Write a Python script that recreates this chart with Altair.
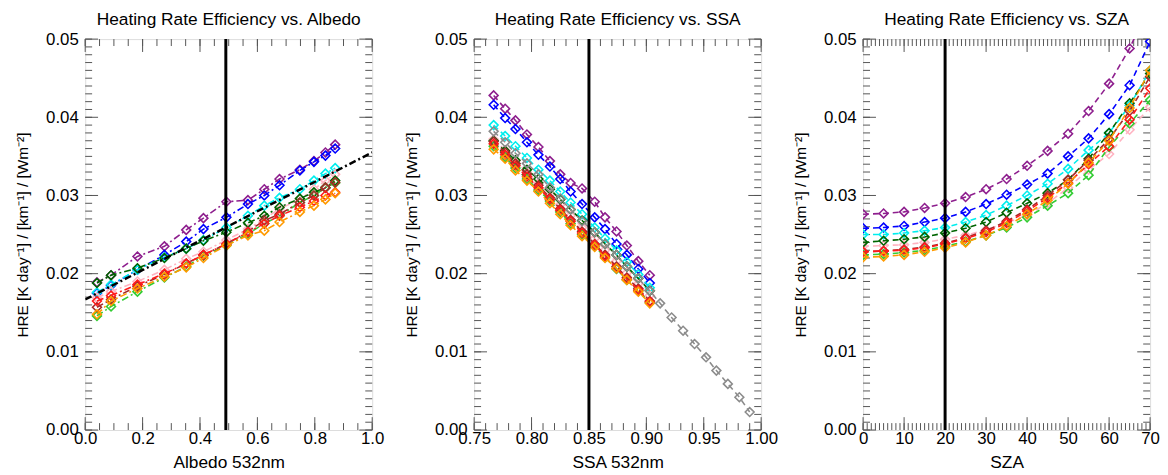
import altair as alt
import pandas as pd
import numpy as np

FONT = "Liberation Sans"
NARROW = "Liberation Sans Narrow, Liberation Sans"
W, H = 290, 395
TICK = "#555555"
YTITLE = "HRE [K day⁻¹] / [km⁻¹] / [Wm⁻²]"

SERIES = ["purple", "blue", "cyan", "pink", "darkgreen", "lime", "brown", "red", "orange", "gray"]
COLORS = ["#8E1F8E", "#0000FF", "#00EEEE", "#FFB3C1", "#006400", "#33CC33", "#A52A2A", "#FF1A1A", "#FF9A00", "#8C8C8C"]
CMAP = dict(zip(SERIES, COLORS))

# ---------------- Panel 1: HRE vs Albedo ----------------
alb_x = [0.041, 0.090, 0.182, 0.276, 0.352, 0.412, 0.492, 0.567, 0.624, 0.677, 0.748, 0.797, 0.837, 0.871]
alb_purple = [0.0189, 0.0198, 0.0222, 0.0235, 0.0256, 0.0271, 0.0292, 0.0294, 0.0308, 0.0321, 0.0333, 0.0344, 0.0355, 0.0365]
alb_blue = [0.0175, 0.0185, 0.0205, 0.0224, 0.0241, 0.0257, 0.0272, 0.0289, 0.0300, 0.0313, 0.0332, 0.0343, 0.0351, 0.0360]
alb_cyan = [0.0176, 0.0186, 0.0205, 0.0221, 0.0232, 0.0243, 0.0259, 0.0274, 0.0287, 0.0297, 0.0308, 0.0319, 0.0328, 0.0335]
alb_pink = [0.0169, 0.0177, 0.0190, 0.0205, 0.0219, 0.0228, 0.0243, 0.0257, 0.0270, 0.0283, 0.0295, 0.0308, 0.0319, 0.0327]
alb_darkgreen = [0.0188, 0.0198, 0.0207, 0.0220, 0.0232, 0.0242, 0.0253, 0.0265, 0.0274, 0.0285, 0.0296, 0.0304, 0.0310, 0.0319]
alb_lime = [0.0146, 0.0158, 0.0177, 0.0195, 0.0209, 0.0223, 0.0236, 0.0251, 0.0264, 0.0274, 0.0291, 0.0300, 0.0310, 0.0316]
alb_brown = [0.0157, 0.0167, 0.0184, 0.0199, 0.0213, 0.0224, 0.0238, 0.0254, 0.0268, 0.0276, 0.0291, 0.0300, 0.0310, 0.0317]
alb_red = [0.0165, 0.0172, 0.0186, 0.0200, 0.0213, 0.0224, 0.0238, 0.0253, 0.0264, 0.0274, 0.0285, 0.0293, 0.0300, 0.0304]
alb_orange = [0.0148, 0.0165, 0.0181, 0.0196, 0.0208, 0.0220, 0.0236, 0.0249, 0.0255, 0.0266, 0.0279, 0.0287, 0.0295, 0.0303]
alb_fit_x = [0.0, 1.0]
alb_fit_y = [0.0167, 0.0355]
alb_ref = 0.49

# ---------------- Panel 2: HRE vs SSA ----------------
ssa_x = [0.767, 0.777, 0.786, 0.796, 0.806, 0.816, 0.825, 0.834, 0.844, 0.855, 0.864, 0.874, 0.883, 0.893, 0.903]
ssa_x_gray = ssa_x + [0.912, 0.922, 0.932, 0.942, 0.952, 0.961, 0.971, 0.981, 0.990]
ssa_purple = [0.0428, 0.0411, 0.0396, 0.0378, 0.0362, 0.0344, 0.0327, 0.0316, 0.0309, 0.0292, 0.0272, 0.0254, 0.0236, 0.0216, 0.0198]
ssa_blue = [0.0416, 0.0399, 0.0385, 0.0368, 0.0352, 0.0337, 0.0321, 0.0305, 0.0289, 0.0272, 0.0257, 0.0238, 0.0224, 0.0206, 0.0188]
ssa_cyan = [0.0390, 0.0376, 0.0363, 0.0348, 0.0333, 0.0319, 0.0305, 0.0291, 0.0276, 0.0259, 0.0245, 0.0230, 0.0215, 0.0199, 0.0182]
ssa_pink = [0.0372, 0.0358, 0.0344, 0.0330, 0.0316, 0.0301, 0.0288, 0.0274, 0.0259, 0.0245, 0.0230, 0.0216, 0.0201, 0.0187, 0.0172]
ssa_darkgreen = [0.0370, 0.0357, 0.0345, 0.0333, 0.0321, 0.0308, 0.0295, 0.0282, 0.0268, 0.0253, 0.0238, 0.0224, 0.0209, 0.0194, 0.0178]
ssa_lime = [0.0363, 0.0349, 0.0335, 0.0321, 0.0307, 0.0293, 0.0279, 0.0264, 0.0250, 0.0235, 0.0221, 0.0206, 0.0192, 0.0178, 0.0163]
ssa_brown = [0.0369, 0.0355, 0.0341, 0.0327, 0.0313, 0.0297, 0.0283, 0.0269, 0.0254, 0.0238, 0.0224, 0.0209, 0.0195, 0.0181, 0.0165]
ssa_red = [0.0366, 0.0352, 0.0338, 0.0324, 0.0310, 0.0295, 0.0281, 0.0267, 0.0252, 0.0237, 0.0222, 0.0207, 0.0193, 0.0179, 0.0164]
ssa_orange = [0.0359, 0.0347, 0.0332, 0.0319, 0.0305, 0.0290, 0.0276, 0.0262, 0.0248, 0.0234, 0.0220, 0.0207, 0.0192, 0.0177, 0.0162]
ssa_gray = [0.0382, 0.0368, 0.0354, 0.0341, 0.0327, 0.0310, 0.0296, 0.0282, 0.0267, 0.0253, 0.0238, 0.0224, 0.0209, 0.0194, 0.0178,
            0.0162, 0.0144, 0.0127, 0.0110, 0.0093, 0.0076, 0.0059, 0.0042, 0.0023]
ssa_ref = 0.85

# ---------------- Panel 3: HRE vs SZA ----------------
sza_x = [0, 5, 10, 15, 20, 25, 30, 35, 40, 45, 50, 55, 60, 65, 70]
sza_purple = [0.0276, 0.0277, 0.0279, 0.0284, 0.0290, 0.0298, 0.0308, 0.0321, 0.0338, 0.0357, 0.0379, 0.0408, 0.0443, 0.0488, 0.0545]
sza_blue = [0.0258, 0.0259, 0.0261, 0.0266, 0.0271, 0.0279, 0.0289, 0.0301, 0.0314, 0.0328, 0.0350, 0.0373, 0.0404, 0.0441, 0.0497]
sza_cyan = [0.0250, 0.0250, 0.0252, 0.0255, 0.0259, 0.0266, 0.0275, 0.0287, 0.0300, 0.0315, 0.0334, 0.0358, 0.0380, 0.0415, 0.0460]
sza_pink = [0.0235, 0.0236, 0.0237, 0.0240, 0.0244, 0.0249, 0.0256, 0.0265, 0.0275, 0.0290, 0.0310, 0.0333, 0.0353, 0.0384, 0.0413]
sza_darkgreen = [0.0240, 0.0242, 0.0244, 0.0247, 0.0252, 0.0258, 0.0266, 0.0278, 0.0290, 0.0303, 0.0320, 0.0347, 0.0380, 0.0418, 0.0456]
sza_lime = [0.0224, 0.0225, 0.0227, 0.0230, 0.0235, 0.0241, 0.0249, 0.0259, 0.0272, 0.0287, 0.0303, 0.0326, 0.0362, 0.0392, 0.0422]
sza_brown = [0.0228, 0.0229, 0.0231, 0.0234, 0.0239, 0.0246, 0.0255, 0.0267, 0.0282, 0.0300, 0.0320, 0.0345, 0.0372, 0.0408, 0.0452]
sza_red = [0.0228, 0.0229, 0.0230, 0.0233, 0.0238, 0.0245, 0.0253, 0.0265, 0.0280, 0.0297, 0.0316, 0.0340, 0.0363, 0.0397, 0.0437]
sza_orange = [0.0221, 0.0222, 0.0224, 0.0228, 0.0233, 0.0240, 0.0249, 0.0261, 0.0276, 0.0294, 0.0315, 0.0342, 0.0370, 0.0412, 0.0460]
sza_ref = 20

# ---------------- Axis ticks ----------------
y_major = [0.00, 0.01, 0.02, 0.03, 0.04, 0.05]
y_minor = [round(i * 0.001, 3) for i in range(0, 51)]
alb_major = [0.0, 0.2, 0.4, 0.6, 0.8, 1.0]
alb_minor = [round(i * 0.05, 2) for i in range(0, 21)]
ssa_major = [0.75, 0.80, 0.85, 0.90, 0.95, 1.00]
ssa_minor = [round(0.75 + i * 0.01, 2) for i in range(0, 26)]
sza_major = [0, 10, 20, 30, 40, 50, 60, 70]
sza_minor = list(range(0, 71))

MAJ, MIN = 13, 7


def panel(title, xtitle, xdomain, xmaj, xmin, xfmt, series, dash, ref, extra=None):
    xscale = alt.Scale(domain=xdomain, nice=False, zero=False)
    yscale = alt.Scale(domain=[0, 0.05], nice=False, zero=False)
    xaxis = alt.Axis(values=xmaj, format=xfmt, title=xtitle, ticks=False, domain=False, grid=False,
                     labelFontSize=17, titleFontSize=17.5, labelFont=FONT, titleFont=FONT,
                     titleFontWeight="normal", labelColor="black", titleColor="black",
                     labelPadding=1, titlePadding=7, labelFlush=False, labelOverlap=False)
    yaxis = alt.Axis(values=y_major, format=".2f", title=YTITLE, ticks=False, domain=False, grid=False,
                     labelFontSize=17, titleFontSize=15.5, labelFont=FONT, titleFont=NARROW,
                     titleFontWeight="normal", labelColor="black", titleColor="black",
                     labelPadding=7, titlePadding=15, labelFlush=False, labelOverlap=False)

    def X(f):
        return alt.X(f, scale=xscale, axis=xaxis)

    def Y(f):
        return alt.Y(f, scale=yscale, axis=yaxis)

    layers = []
    for vals, L in ((xmin, MIN), (xmaj, MAJ)):
        d = pd.DataFrame({"v": vals})
        layers.append(alt.Chart(d).mark_rule(color=TICK, strokeWidth=1).encode(
            x=X("v:Q"), y=alt.value(H), y2=alt.value(H - L)))
        layers.append(alt.Chart(d).mark_rule(color=TICK, strokeWidth=1).encode(
            x=X("v:Q"), y=alt.value(0), y2=alt.value(L)))
    for vals, L in ((y_minor, MIN), (y_major, MAJ)):
        d = pd.DataFrame({"v": vals})
        layers.append(alt.Chart(d).mark_rule(color=TICK, strokeWidth=1).encode(
            y=Y("v:Q"), x=alt.value(0), x2=alt.value(L)))
        layers.append(alt.Chart(d).mark_rule(color=TICK, strokeWidth=1).encode(
            y=Y("v:Q"), x=alt.value(W), x2=alt.value(W - L)))
    for name, xs, ys in series:
        d = pd.DataFrame({"x": xs, "y": ys})
        c = CMAP[name]
        layers.append(alt.Chart(d).mark_line(color=c, strokeWidth=1.6, strokeDash=dash, clip=True).encode(
            x=X("x:Q"), y=Y("y:Q")))
        layers.append(alt.Chart(d).mark_point(shape="diamond", filled=False, color=c, size=80,
                                              strokeWidth=1.6, opacity=1, clip=True).encode(
            x=X("x:Q"), y=Y("y:Q")))
    if extra is not None:
        xs, ys = extra
        d = pd.DataFrame({"x": xs, "y": ys})
        layers.append(alt.Chart(d).mark_line(color="black", strokeWidth=2.5, strokeDash=[7, 3, 2, 3], clip=True).encode(
            x=X("x:Q"), y=Y("y:Q")))
    rd = pd.DataFrame({"x": [ref]})
    layers.append(alt.Chart(rd).mark_rule(color="black", strokeWidth=3).encode(x=X("x:Q")))
    return alt.layer(*layers).properties(
        width=W, height=H,
        title=alt.TitleParams(title, fontSize=17.5, font=FONT, fontWeight="normal", color="black",
                              anchor="middle", frame="group", offset=2))


DD = [7, 3, 2, 3]
DASH = [6, 4]

p1 = panel("Heating Rate Efficiency vs. Albedo", "Albedo 532nm", [0, 1], alb_major, alb_minor, ".1f",
           [("purple", alb_x, alb_purple), ("blue", alb_x, alb_blue), ("cyan", alb_x, alb_cyan),
            ("pink", alb_x, alb_pink), ("darkgreen", alb_x, alb_darkgreen), ("lime", alb_x, alb_lime),
            ("brown", alb_x, alb_brown), ("red", alb_x, alb_red), ("orange", alb_x, alb_orange)],
           DD, alb_ref, extra=(alb_fit_x, alb_fit_y))

p2 = panel("Heating Rate Efficiency vs. SSA", "SSA 532nm", [0.75, 1.0], ssa_major, ssa_minor, ".2f",
           [("purple", ssa_x, ssa_purple), ("blue", ssa_x, ssa_blue), ("cyan", ssa_x, ssa_cyan),
            ("pink", ssa_x, ssa_pink), ("darkgreen", ssa_x, ssa_darkgreen), ("lime", ssa_x, ssa_lime),
            ("brown", ssa_x, ssa_brown), ("red", ssa_x, ssa_red), ("orange", ssa_x, ssa_orange),
            ("gray", ssa_x_gray, ssa_gray)],
           DASH, ssa_ref)

p3 = panel("Heating Rate Efficiency vs. SZA", "SZA", [0, 70], sza_major, sza_minor, "d",
           [("purple", sza_x, sza_purple), ("blue", sza_x, sza_blue), ("cyan", sza_x, sza_cyan),
            ("pink", sza_x, sza_pink), ("darkgreen", sza_x, sza_darkgreen), ("lime", sza_x, sza_lime),
            ("brown", sza_x, sza_brown), ("red", sza_x, sza_red), ("orange", sza_x, sza_orange)],
           DASH, sza_ref)

chart = alt.hconcat(p1, p2, p3, spacing=103, bounds="flush").properties(
    padding={"left": 7, "top": 0, "right": 0, "bottom": 0}
).configure_view(stroke="#555555", strokeWidth=1.5).configure(font=FONT)

chart.save("out.html", embed_options={"renderer": "svg", "actions": False})
